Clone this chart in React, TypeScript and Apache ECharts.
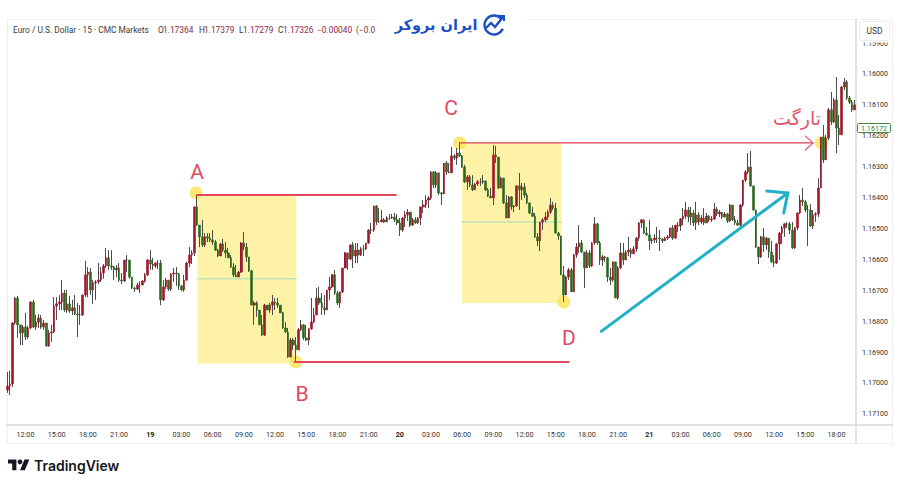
import React, { useEffect, useRef } from "react";
import * as echarts from "echarts";

// Prices are stored as offsets from 1.16000 in units of 0.00001.
const BASE = 1.16;
const firstOpen = 1023;
const closes = [
  1010,1003,806,725,812,838,819,851,822,738, 819,803,790,819,806,880,838,835,751,744,
  738,709,764,744,767,757,777,780,780,715, 650,641,699,676,673,667,644,621,595,621,
  625,634,628,667,670,602,602,657,693,696, 683,683,670,650,602,615,621,612,612,731,
  689,667,696,647,644,647,686,699,667,612, 586,579,430,489,527,553,527,531,537,544,
  570,589,550,570,579,595,625,650,657,641, 547,560,592,637,748,741,764,812,845,748,
  764,748,738,741,748,773,822,835,916,861, 877,893,828,812,854,861,825,803,780,725,
  741,757,764,699,689,650,709,741,705,628, 579,599,553,589,570,586,566,566,547,505,
  505,427,479,479,472,479,466,466,463,472, 482,505,466,456,447,489,472,482,466,430,
  424,408,401,317,359,320,385,388,288,317, 320,265,272,256,265,301,349,333,359,375,
  356,349,349,346,375,395,401,262,269,369, 337,417,466,398,430,427,362,375,366,392,
  417,450,460,527,540,479,472,463,447,424, 434,515,524,650,715,657,634,705,586,560,
  547,576,628,579,621,547,485,547,602,592, 595,657,667,608,725,628,579,602,576,570,
  582,566,531,482,472,515,521,540,537,531, 531,534,540,531,527,498,531,489,492,469,
  460,440,463,450,482,456,479,466,482,460, 472,469,437,453,447,463,453,476,424,472,
  482,489,424,343,317,301,362,440,560,592, 527,553,531,576,608,612,550,515,498,485,
  485,505,563,498,450,408,414,440,440,492, 456,453,369,204,278,207,116,155,84,175,
  197,42,26,78,91,116,100,
];
const lows = [
  964,961,803,722,718,828,812,773,815,735, 731,780,777,780,796,806,828,812,722,722,
  715,667,699,699,718,731,715,741,748,715, 605,625,628,667,667,612,625,615,563,570,
  570,621,618,612,644,602,586,602,657,689, 676,670,667,644,599,570,595,608,602,602,
  667,660,667,644,628,625,644,683,650,608, 560,570,430,392,489,472,515,515,515,505,
  537,566,547,534,544,563,586,612,618,637, 544,511,547,592,634,735,735,764,780,744,
  748,741,715,725,725,748,770,803,822,854, 854,851,822,796,809,812,822,725,757,693,
  689,709,715,699,657,647,634,702,705,628, 576,586,553,544,547,547,560,553,547,502,
  482,427,424,434,440,466,460,453,453,450, 453,466,463,443,437,450,466,463,463,430,
  408,392,395,314,314,314,353,382,288,282, 288,236,259,239,220,262,294,327,327,327,
  353,343,337,327,349,369,369,230,233,269, 333,337,392,395,395,424,362,320,353,353,
  385,417,430,450,515,479,466,447,440,401, 414,417,511,527,621,654,628,628,582,547,
  489,537,576,570,570,544,463,482,540,586, 589,592,628,608,608,621,547,547,570,527,
  563,557,527,479,469,472,495,472,531,518, 495,505,531,527,521,498,489,489,479,466,
  434,414,430,430,440,414,447,456,434,450, 456,460,417,430,440,447,447,450,421,424,
  460,472,421,343,311,256,249,375,443,560, 524,498,527,537,540,586,547,511,492,482,
  479,479,479,495,447,392,369,408,424,421, 440,447,337,204,165,197,110,58,78,10,
  133,39,13,19,71,84,84,
];
const highs = [
  1032,1039,1013,812,854,877,877,861,858,825, 822,828,822,825,828,883,883,867,838,796,
  764,764,770,773,773,780,780,851,812,783, 722,722,715,744,731,680,673,663,628,634,
  634,667,657,673,680,673,641,663,696,705, 699,709,683,676,654,634,634,628,631,748,
  735,696,702,702,673,686,699,702,705,670, 625,615,589,492,560,560,560,544,544,553,
  573,592,589,576,595,595,628,657,657,657, 644,570,608,641,748,812,786,812,848,848,
  764,773,780,764,757,773,825,838,919,900, 893,935,893,832,861,864,877,828,806,773,
  748,780,780,764,731,693,715,748,757,709, 628,634,602,628,612,612,589,589,570,550,
  518,511,489,482,479,482,479,472,469,479, 489,524,511,495,476,495,492,485,485,489,
  450,434,434,408,369,369,392,424,388,327, 320,275,278,294,269,304,353,375,366,379,
  375,362,362,356,379,398,401,424,288,372, 369,421,466,466,440,447,430,440,408,401,
  421,453,463,531,557,573,505,479,472,453, 440,515,537,650,738,715,667,705,705,595,
  579,579,693,628,628,625,553,553,618,621, 608,673,683,673,725,731,631,618,595,589,
  595,579,576,540,498,518,524,570,550,547, 547,573,547,540,537,531,537,534,511,508,
  489,469,479,489,492,505,489,485,489,479, 479,479,472,460,463,469,463,482,479,476,
  489,492,498,430,349,324,366,443,563,615, 595,576,570,595,612,625,615,602,550,527,
  498,518,566,566,505,453,427,447,557,495, 502,479,463,327,288,278,214,165,159,256,
  230,149,52,84,97,123,116,
];

const tickLabels = [
  "12:00","15:00","18:00","21:00","19","03:00","06:00","09:00","12:00","15:00","18:00","21:00",
  "20","03:00","06:00","09:00","12:00","15:00","18:00","21:00","21","03:00","06:00","09:00","12:00","15:00","18:00",
];
const priceTicks = [1.159,1.16,1.161,1.162,1.163,1.164,1.165,1.166,1.167,1.168,1.169,1.17,1.171];

// Annotations, on a hidden x scale counted in candles and the price scale.
const topLine = { x: [73.5, 150], p: [392, 392] };
const bottomLine = { x: [111, 216.5], p: [932, 932] };
const targetLine = { x: [174.5, 310.5], p: [223, 223] };
const targetHead = { x: [307.5, 310.5, 307.5], p: [201, 223, 246] };
const box1 = { x: [73.65, 111.7], p: [392, 937], mid: 663 };
const box2 = { x: [175.4, 213.7], p: [223, 741], mid: 479 };
const swingX = [73.1, 111.5, 174.5, 214.6, 313.7];
const swingP = [385, 932, 223, 738, 223];
const arrowShaft = { x: [229, 300.8], p: [833, 385] };
const arrowHead = { x: [292.7, 300.8, 299.2], p: [379, 385, 450] };

const px = (v: number) => BASE + v / 1e5;
const RED = "#e2485f";
const FONT = "Roboto";

const tvPath = "M14 22H7V11H0V4h14v18zM28 22h-8l7.5-18h8L28 22z";
echarts.graphic.registerShape("tvlogo", echarts.graphic.extendPath(tvPath as any, {} as any) as any);

const text = (x: number, y: number, t: string, fill: string, size: number, extra: any = {}) => ({
  type: "text",
  x,
  y,
  z: 100,
  silent: true,
  style: { text: t, fill, font: `${extra.weight || "normal"} ${size}px ${extra.family || FONT}`, textAlign: extra.align || "left", textVerticalAlign: "middle" },
});

export default function App() {
  const ref = useRef<HTMLDivElement>(null);
  useEffect(() => {
    const chart = echarts.init(ref.current!, null, { renderer: "svg" });
    const opens = closes.map((_, i) => (i === 0 ? firstOpen : closes[i - 1]));
    const categories = closes.map((_, i) => {
      const k = i - 7;
      return k >= 0 && k % 12 === 0 && tickLabels[k / 12] ? `${tickLabels[k / 12]}|${i}` : `|${i}`;
    });
    const wick = closes.map((c, i) => [px(opens[i]), px(c), px(Math.min(lows[i], opens[i], c)), px(Math.max(highs[i], opens[i], c))]);
    const body = closes.map((c, i) => [px(opens[i]), px(c), px(Math.min(opens[i], c)), px(Math.max(opens[i], c))]);
    const lineOf = (name: string, s: { x: number[]; p: number[] }, color: string, width: number, extra: any = {}) => ({
      name,
      type: "line",
      xAxisIndex: 1,
      yAxisIndex: 0,
      data: s.x.map((x, i) => [x, px(s.p[i])]),
      symbol: "none",
      silent: true,
      clip: false,
      z: 5,
      lineStyle: { color, width, cap: "round", join: "round" },
      ...extra,
    });
    const area = (b: typeof box1) => ({
      silent: true,
      itemStyle: { color: "#fdf2a6" },
      data: [[{ coord: [b.x[0], px(b.p[0])] }, { coord: [b.x[1], px(b.p[1])] }]],
    });
    chart.setOption({
      animation: false,
      backgroundColor: "#ffffff",
      grid: { left: 6, right: 44, top: 19, bottom: 61, containLabel: false },
      xAxis: [
        {
          type: "category",
          data: categories,
          boundaryGap: true,
          position: "bottom",
          axisLine: { onZero: false, lineStyle: { color: "#d9d9d9", width: 1.5 } },
          axisTick: { show: false },
          splitLine: { show: false },
          axisLabel: {
            interval: (_: number, v: string) => v.split("|")[0] !== "",
            formatter: (v: string) => {
              const t = v.split("|")[0];
              return t.length < 3 ? `{b|${t}}` : t;
            },
            color: "#333333",
            fontSize: 7.2,
            fontFamily: FONT,
            margin: 6,
            hideOverlap: false,
            rich: { b: { fontSize: 7.2, fontWeight: "bold", color: "#222", fontFamily: FONT } },
          },
        },
        { type: "value", min: 0, max: 327, show: false },
      ],
      yAxis: {
        type: "value",
        inverse: true,
        position: "right",
        min: 1.15822,
        max: 1.17136,
        axisLine: { show: true, onZero: false, lineStyle: { color: "#d9d9d9", width: 1.5 } },
        axisTick: { show: false },
        splitLine: { show: false },
        axisLabel: {
          customValues: priceTicks,
          formatter: (v: number) => v.toFixed(5),
          color: "#333333",
          fontSize: 7.2,
          fontFamily: FONT,
          margin: 6,
        },
      },
      series: [
        lineOf("mid1", { x: box1.x, p: [box1.mid, box1.mid] }, "#a5dcc0", 1, { z: 1, markArea: area(box1) }),
        lineOf("mid2", { x: box2.x, p: [box2.mid, box2.mid] }, "#a5dcc0", 1, { z: 1, markArea: area(box2) }),
        {
          name: "swings",
          type: "scatter",
          xAxisIndex: 1,
          yAxisIndex: 0,
          data: swingX.map((x, i) => [x, px(swingP[i])]),
          symbolSize: 13,
          silent: true,
          clip: false,
          z: 1.5,
          itemStyle: { color: "#fde24f" },
        },
        {
          name: "wicks",
          type: "candlestick",
          xAxisIndex: 0,
          yAxisIndex: 0,
          data: wick,
          barWidth: 1,
          silent: true,
          z: 2,
          itemStyle: { color: "#4c4c4c", color0: "#4c4c4c", borderColor: "#4c4c4c", borderColor0: "#4c4c4c", borderWidth: 1 },
        },
        {
          name: "EURUSD",
          type: "candlestick",
          xAxisIndex: 0,
          yAxisIndex: 0,
          data: body,
          barWidth: 2.1,
          silent: true,
          z: 3,
          itemStyle: { color: "#2b6a1d", color0: "#a1152b", borderColor: "#2b6a1d", borderColor0: "#a1152b", borderWidth: 0.6 },
        },
        lineOf("lineA", topLine, RED, 2),
        lineOf("lineB", bottomLine, RED, 2),
        lineOf("target", targetLine, "#dd3f57", 1.4),
        lineOf("targetHead", targetHead, "#e2566b", 1.2),
        lineOf("shaft", arrowShaft, "#1fb1c8", 3),
        lineOf("head", arrowHead, "#1fb1c8", 3),
      ],
      graphic: [
        // frame
        { type: "line", z: 0, silent: true, shape: { x1: 7.5, y1: 19, x2: 7.5, y2: 443 }, style: { stroke: "#efefef", lineWidth: 1 } },
        { type: "line", z: 0, silent: true, shape: { x1: 7, y1: 19.5, x2: 380, y2: 19.5 }, style: { stroke: "#f3f3f3", lineWidth: 1 } },
        { type: "line", z: 0, silent: true, shape: { x1: 525, y1: 19.5, x2: 893, y2: 19.5 }, style: { stroke: "#f3f3f3", lineWidth: 1 } },
        { type: "line", z: 0, silent: true, shape: { x1: 892.5, y1: 19, x2: 892.5, y2: 443 }, style: { stroke: "#efefef", lineWidth: 1 } },
        { type: "line", z: 0, silent: true, shape: { x1: 7, y1: 443.5, x2: 893, y2: 443.5 }, style: { stroke: "#efefef", lineWidth: 1 } },
        { type: "line", z: 0, silent: true, shape: { x1: 856, y1: 425, x2: 893, y2: 425 }, style: { stroke: "#d9d9d9", lineWidth: 1.5 } },
        { type: "line", z: 0, silent: true, shape: { x1: 856, y1: 425, x2: 856, y2: 443 }, style: { stroke: "#d9d9d9", lineWidth: 1.5 } },
        // USD box, which hides the top of the next tick label
        { type: "rect", z: 99, silent: true, shape: { x: 858, y: 38, width: 33, height: 4.6 }, style: { fill: "#fff" } },
        { type: "rect", z: 100, silent: true, shape: { x: 859.5, y: 21.5, width: 30, height: 19, r: 2 }, style: { fill: "#fff", stroke: "#ececec", lineWidth: 1 } },
        text(874.5, 31, "USD", "#3a3a3a", 8.5, { align: "center" }),
        // price tag
        { type: "rect", z: 100, silent: true, shape: { x: 857.5, y: 123.5, width: 33, height: 9, r: 1 }, style: { fill: "#fff", stroke: "#3f8a3f", lineWidth: 1 } },
        text(874, 128, "1.16172", "#2f7d32", 7.2, { align: "center" }),
        // header
        text(13, 29.5, "Euro / U.S. Dollar · 15 · CMC Markets", "#3c3c3c", 8.4),
        text(158, 29.5, "O", "#3c3c3c", 8.4),
        text(163, 29.5, "1.17364", "#8e2a40", 8.4),
        text(199, 29.5, "H", "#3c3c3c", 8.4),
        text(204, 29.5, "1.17379", "#8e2a40", 8.4),
        text(239, 29.5, "L", "#3c3c3c", 8.4),
        text(243, 29.5, "1.17279", "#8e2a40", 8.4),
        text(278, 29.5, "C", "#3c3c3c", 8.4),
        text(283, 29.5, "1.17326", "#8e2a40", 8.4),
        text(317, 29.5, "−0.00040", "#8e2a40", 8.4),
        text(356, 29.5, "(−0.0", "#8e2a40", 8.4),
        // logo
        text(436, 25, "ایران بروکر", "#1b4fc4", 14.5, { align: "center", weight: "bold", family: "DejaVu Sans" }),
        { type: "arc", z: 100, silent: true, shape: { cx: 494, cy: 25, r: 9.5, startAngle: 0.4, endAngle: 5.6 }, style: { stroke: "#1b4fc4", fill: "none", lineWidth: 2.4 } },
        { type: "polyline", z: 100, silent: true, shape: { points: [[486, 28], [491, 23], [495, 27], [503, 17]] }, style: { stroke: "#1b4fc4", fill: "none", lineWidth: 2.4 } },
        { type: "polyline", z: 100, silent: true, shape: { points: [[498, 16], [504, 16], [504, 21]] }, style: { stroke: "#1b4fc4", fill: "none", lineWidth: 2 } },
        // pattern labels
        text(197, 172, "A", RED, 21, { align: "center" }),
        text(302, 394, "B", RED, 21, { align: "center" }),
        text(451, 108, "C", RED, 21, { align: "center" }),
        text(569, 338, "D", RED, 21, { align: "center" }),
        text(797, 118, "تارگت", "#e2566b", 19, { align: "center", family: "DejaVu Sans" }),
        // TradingView mark
        { type: "tvlogo", x: 8, y: 457, scaleX: 0.6, scaleY: 0.6, z: 100, silent: true, style: { fill: "#131722" } },
        { type: "circle", z: 100, silent: true, shape: { cx: 20, cy: 461.8, r: 2.4 }, style: { fill: "#131722" } },
        text(34, 465, "TradingView", "#131722", 14, { weight: 600, family: "Inter" }),
      ],
    });
    return () => chart.dispose();
  }, []);
  return <div ref={ref} style={{ position: "fixed", left: 0, top: 0, width: 900, height: 486, background: "#fff" }} />;
}
